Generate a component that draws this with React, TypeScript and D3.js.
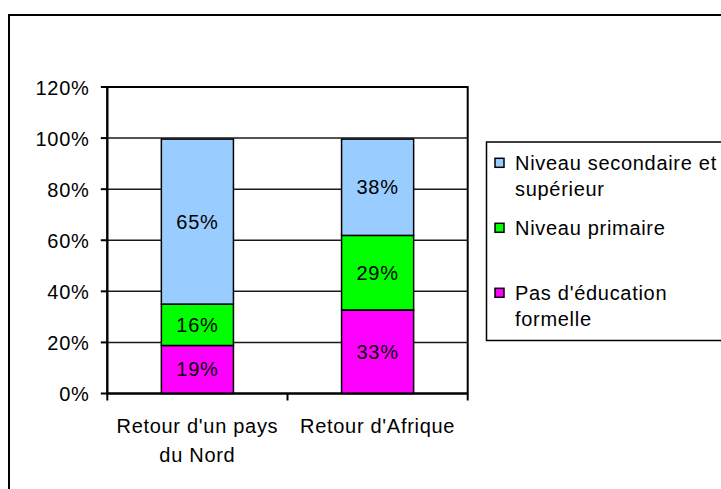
import React from "react";
import * as d3 from "d3";

const categories = ["Retour d'un pays du Nord", "Retour d'Afrique"];
const categoryLines = [["Retour d'un pays", "du Nord"], ["Retour d'Afrique"]];
const seriesNames = ["Pas d'éducation formelle", "Niveau primaire", "Niveau secondaire et supérieur"];
const pasEducation = [18.8, 32.7];
const niveauPrimaire = [16.2, 29.2];
const niveauSecondaire = [64.6, 37.7];
const yTicks = [0, 20, 40, 60, 80, 100, 120];
const colors = ["#FF00FF", "#00FF00", "#99CCFF"];
const legendOrder = [
  { idx: 2, lines: ["Niveau secondaire et", "supérieur"] },
  { idx: 1, lines: ["Niveau primaire"] },
  { idx: 0, lines: ["Pas d'éducation", "formelle"] },
];

const FONT = "'Liberation Sans', Arial, sans-serif";

export default function App() {
  const left = 107.3, right = 467.7, bottom = 393.5, top = 87;
  const x = d3.scaleBand<string>().domain(categories).range([left, right]).paddingInner(0.6).paddingOuter(0.3);
  const y = d3.scaleLinear().domain([0, 120]).range([bottom, top]);
  const rows = categories.map((c, i) => ({
    cat: c,
    s0: pasEducation[i],
    s1: niveauPrimaire[i],
    s2: niveauSecondaire[i],
  }));
  const stack = d3.stack<any>().keys(["s0", "s1", "s2"]);
  const layers = stack(rows);
  const step = x.step();
  const fs = 20;
  const ls = 0.7;

  return (
    <svg width={721} height={489} style={{ position: "fixed", left: 0, top: 0, background: "#fff" }} fontFamily={FONT}>
      <rect x={0} y={0} width={721} height={489} fill="#fff" />
      {/* outer chart frame (clipped) */}
      <rect x={9} y={15} width={800} height={600} fill="none" stroke="#000" strokeWidth={2} />
      {/* plot area */}
      <rect x={left} y={top} width={right - left} height={bottom - top} fill="#fff" stroke="#000" strokeWidth={2} />
      {yTicks.filter((t) => t > 0 && t < 120).map((t) => (
        <line key={"g" + t} x1={left} x2={right} y1={y(t)} y2={y(t)} stroke="#1a1a1a" strokeWidth={1.5} />
      ))}
      {/* bars */}
      {layers.map((layer, li) =>
        layer.map((d, ci) => {
          const x0 = x(categories[ci]) as number;
          const y0 = y(d[1]);
          const y1 = y(d[0]);
          return (
            <g key={li + "-" + ci}>
              <rect x={x0} y={y0} width={x.bandwidth()} height={y1 - y0} fill={colors[li]} stroke="#000" strokeWidth={1.5} />
              <text x={x0 + x.bandwidth() / 2} y={(y0 + y1) / 2 + 7} textAnchor="middle" fontSize={fs} letterSpacing={ls} fill="#000">
                {Math.round(d[1] - d[0])}%
              </text>
            </g>
          );
        })
      )}
      {/* axes */}
      <line x1={left} x2={left} y1={top} y2={bottom} stroke="#000" strokeWidth={2} />
      <line x1={left} x2={right} y1={bottom} y2={bottom} stroke="#000" strokeWidth={2} />
      {yTicks.map((t) => (
        <g key={"t" + t}>
          <line x1={left - 6.5} x2={left} y1={y(t)} y2={y(t)} stroke="#000" strokeWidth={2} />
          <text x={89.5} y={y(t) + 7.5} textAnchor="end" fontSize={fs} letterSpacing={ls} fill="#000">
            {t}%
          </text>
        </g>
      ))}
      {[0, 1, 2].map((k) => (
        <line key={"xt" + k} x1={left + k * step} x2={left + k * step} y1={bottom} y2={bottom + 7} stroke="#000" strokeWidth={2} />
      ))}
      {categoryLines.map((lines, ci) =>
        lines.map((ln, li) => (
          <text key={ci + "-" + li} x={(x(categories[ci]) as number) + x.bandwidth() / 2} y={433 + li * 29} textAnchor="middle" fontSize={fs} letterSpacing={ls} fill="#000">
            {ln}
          </text>
        ))
      )}
      {/* legend */}
      <rect x={486.5} y={142} width={300} height={198.5} fill="#fff" stroke="#000" strokeWidth={1.5} />
      {legendOrder.map((e, k) => {
        const cy = 162.8 + k * 65;
        return (
          <g key={"l" + k}>
            <rect x={495} y={cy - 4.5} width={9} height={9} fill={colors[e.idx]} stroke="#000" strokeWidth={1.5} />
            {e.lines.map((ln, li) => (
              <text key={li} x={515} y={cy + 7 + li * 26} fontSize={fs} letterSpacing={ls} fill="#000">
                {ln}
              </text>
            ))}
          </g>
        );
      })}
    </svg>
  );
}
